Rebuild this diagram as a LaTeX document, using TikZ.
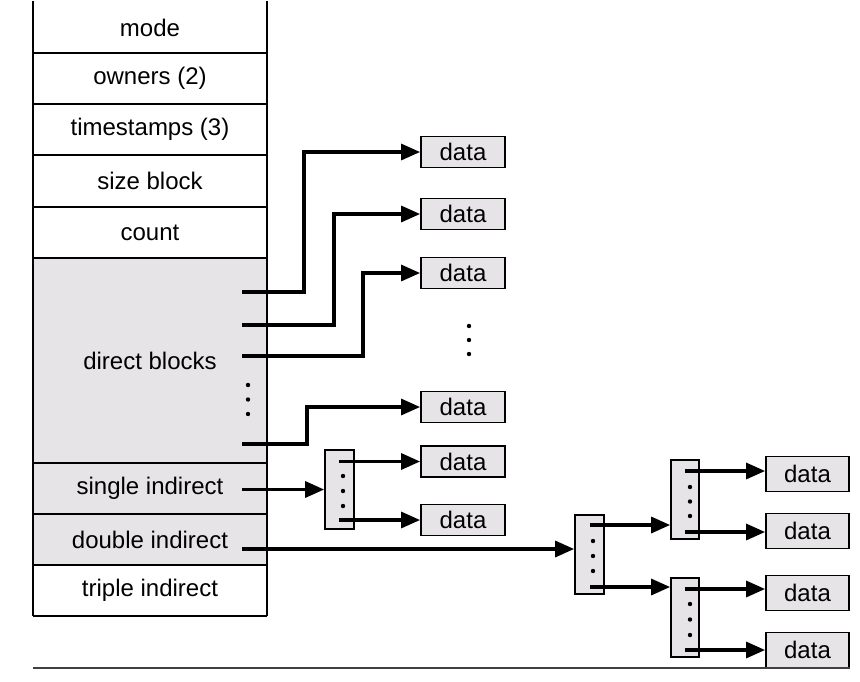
\documentclass[tikz,border=0pt]{standalone}
\usepackage{fontspec}
\setmainfont{Liberation Sans}
\usetikzlibrary{arrows.meta}
\definecolor{boxgray}{RGB}{231,228,231}
\begin{document}
\begin{tikzpicture}[x=1pt,y=-1pt,
  font=\fontsize{24}{28}\selectfont,
  row/.style={fill=#1, draw=none, minimum width=234pt, minimum height=51.3pt, inner sep=0pt, outer sep=0pt},
  tline/.style={line width=1.7pt},
  datab/.style={draw, line width=1.8pt, fill=boxgray, minimum width=84pt, minimum height=31pt, inner sep=0pt},
  datar/.style={datab, minimum width=83pt, minimum height=35pt},
  iblock/.style={draw, line width=1.7pt, fill=boxgray, minimum width=29pt, minimum height=79pt, inner sep=0pt},
  ptr/.style={line width=3.2pt, line join=miter, -{Triangle[length=19pt,width=16pt]}},
  dot/.style={fill=black}]
\useasboundingbox (0,0) rectangle (860,681);

% inode rows
\node[row=white] (mode) at (150,27.5) {mode};
\node[row=white] (owners) at (150,78.5) {owners (2)};
\node[row=white] (times) at (150,129.5) {timestamps (3)};
\node[row=white] (size) at (150,181) {size block};
\node[row=white] (count) at (150,232.5) {count};
\node[row=boxgray, minimum height=205pt] (direct) at (150,360.5) {direct blocks};
\node[row=boxgray] (single) at (150,488.5) {single indirect};
\node[row=boxgray] (double) at (150,539.5) {double indirect};
\node[row=white] (triple) at (150,590.5) {triple indirect};

\foreach \r in {mode,owners,times,size,count,direct,single,double,triple}
  \draw[tline] (\r.south west) -- (\r.south east);
\draw[tline] ([yshift=1pt]mode.north west) -- (triple.south west);
\draw[tline] ([yshift=1pt]mode.north east) -- (triple.south east);

% dots in direct blocks
\foreach \y in {385,399.5,414} \fill[dot] (248,\y) circle (2.2pt);

% direct data blocks
\node[datab] (d1) at (463,152) {data};
\node[datab] (d2) at (463,214) {data};
\node[datab] (d3) at (463,273) {data};
\node[datab] (d4) at (463,407) {data};
\foreach \y in {326,340,354} \fill[dot] (469,\y) circle (2.2pt);

% direct pointers
\coordinate (p1) at (242,292);
\coordinate (p2) at (242,325);
\coordinate (p3) at (242,356);
\coordinate (p4) at (242,444);
\draw[ptr] (p1) -- ++(62,0) |- (d1.west);
\draw[ptr] (p2) -- ++(92,0) |- (d2.west);
\draw[ptr] (p3) -- ++(121,0) |- (d3.west);
\draw[ptr] (p4) -- ++(65,0) |- (d4.west);

% single indirect
\node[iblock] (sib) at (339.5,489.5) {};
\foreach \y in {476,491,506} \fill[dot] (343,\y) circle (2.2pt);
\node[datab] (d5) at (463,461.5) {data};
\node[datab] (d6) at (463,520) {data};
\coordinate (ps) at (242,489.5);
\draw[ptr] (ps) -- (sib.west);
\coordinate (s1) at (339,461.5);
\coordinate (s2) at (339,520);
\draw[ptr] (s1) -- (d5.west);
\draw[ptr] (s2) -- (d6.west);

% double indirect
\node[iblock] (dib) at (589.5,554.5) {};
\foreach \y in {541,556,571} \fill[dot] (593,\y) circle (2.2pt);
\coordinate (pd) at (242,549);
\draw[ptr] (pd) -- (pd -| dib.west);

\node[iblock, minimum width=28pt] (ta) at (685,499.5) {};
\node[iblock, minimum width=28pt] (tb) at (685,617.5) {};
\foreach \y in {487,501.5,516} \fill[dot] (690,\y) circle (2.2pt);
\foreach \y in {604,619.5,635} \fill[dot] (690,\y) circle (2.2pt);

\coordinate (q1) at (590,525);
\coordinate (q2) at (590,587);
\draw[ptr] (q1) -- (q1 -| ta.west);
\draw[ptr] (q2) -- (q2 -| tb.west);

\node[datar] (r1) at (807.5,474) {data};
\node[datar] (r2) at (807.5,531) {data};
\node[datar] (r3) at (807.5,593) {data};
\node[datar] (r4) at (807.5,650) {data};

\coordinate (t1) at (685,471);
\coordinate (t2) at (685,532);
\coordinate (t3) at (685,589);
\coordinate (t4) at (685,650);
\draw[ptr] (t1) -- (t1 -| r1.west);
\draw[ptr] (t2) -- (t2 -| r2.west);
\draw[ptr] (t3) -- (t3 -| r3.west);
\draw[ptr] (t4) -- (t4 -| r4.west);

% bottom rule
\draw[line width=1.2pt, black!75] (33,668) -- (850,668);
\end{tikzpicture}
\end{document}
